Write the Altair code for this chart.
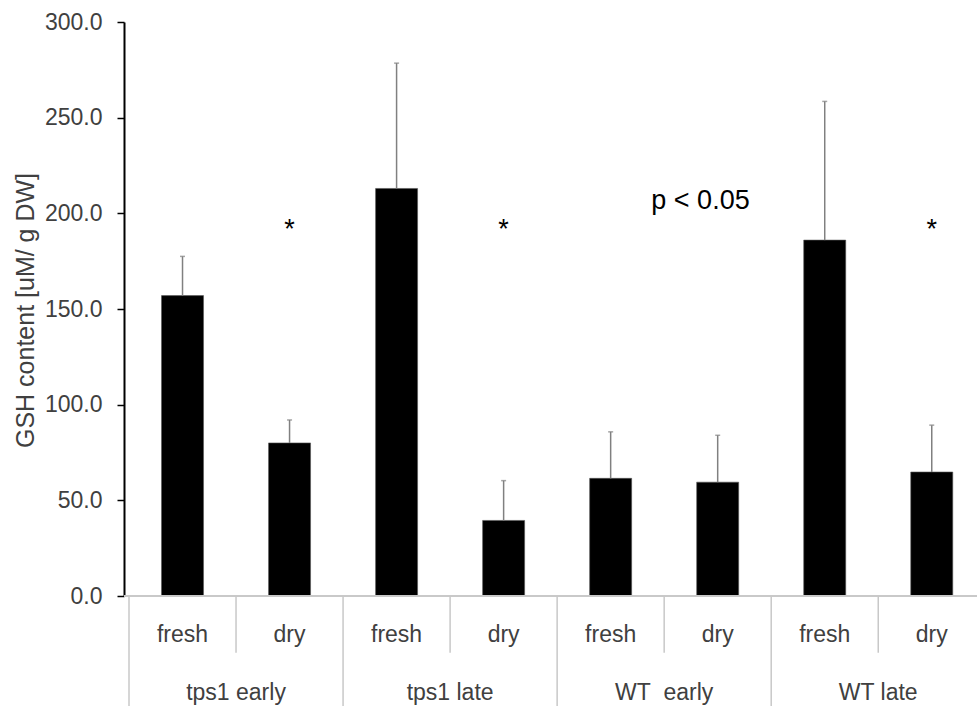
import altair as alt
import pandas as pd

# ---- data ----
conditions = ["fresh", "dry", "fresh", "dry", "fresh", "dry", "fresh", "dry"]
groups = ["tps1 early", "tps1 late", "WT\u00a0 early", "WT late"]
means = [157.0, 80.0, 213.0, 39.5, 61.5, 59.5, 186.0, 64.8]
upper = [177.5, 92.0, 278.5, 60.3, 85.8, 84.0, 258.5, 89.3]
star_on = [1, 3, 7]          # indices of bars marked with '*'
star_level = 187.0           # y value of the asterisks
p_text = "p < 0.05"
p_pos = (4.38, 202.5)        # (category position, y value) of the annotation
cond_label_y = -23.8         # y value for the 'fresh'/'dry' row
group_label_y = -54.2        # y value for the group row
sub_sep_bottom = -29.6
group_sep_bottom = -62.0

FONT = "Liberation Sans"
GREY_TXT = "#404040"

idx = list(range(len(conditions)))
bars = pd.DataFrame({"pos": idx, "cond": conditions, "mean": means, "upper": upper})
stars = pd.DataFrame({"pos": star_on, "y": [star_level] * len(star_on), "t": ["*"] * len(star_on)})
cond_lab = pd.DataFrame({"pos": idx, "t": conditions, "y": [cond_label_y] * len(idx)})
grp_lab = pd.DataFrame({"pos": [2 * g + 0.5 for g in range(len(groups))], "t": groups,
                        "y": [group_label_y] * len(groups)})
seps = pd.DataFrame({
    "pos": [i - 0.5 for i in idx],
    "y0": [0.0] * len(idx),
    "y1": [group_sep_bottom if i % 2 == 0 else sub_sep_bottom for i in idx],
})
ann = pd.DataFrame({"pos": [p_pos[0]], "y": [p_pos[1]], "t": [p_text]})

xscale = alt.Scale(domain=[-0.5, 7.376], nice=False, zero=False)
yscale = alt.Scale(domain=[0, 300], nice=False)

X = alt.X("pos:Q", scale=xscale, axis=None)

bar_layer = alt.Chart(bars).mark_bar(size=42, color="black", stroke="#555555", strokeWidth=0.6).encode(
    x=X,
    y=alt.Y("mean:Q", scale=yscale,
            axis=alt.Axis(title="GSH content [uM/ g DW]", values=[0, 50, 100, 150, 200, 250, 300],
                          format=".1f", grid=False)),
)
err_layer = alt.Chart(bars).mark_rule(color="#808080", strokeWidth=1.5).encode(
    x=X, y="mean:Q", y2="upper:Q"
)
cap_layer = alt.Chart(bars).mark_tick(color="#808080", orient="horizontal", size=5, thickness=1.5).encode(
    x=X, y="upper:Q"
)
base_layer = alt.Chart(bars).mark_rule(color="#c8c8c8", strokeWidth=1.5).encode(
    y=alt.datum(0)
)
sep_layer = alt.Chart(seps).mark_rule(color="#c8c8c8", strokeWidth=1.5, clip=False).encode(
    x=X, y="y0:Q", y2="y1:Q"
)
cond_layer = alt.Chart(cond_lab).mark_text(font=FONT, fontSize=23, color=GREY_TXT, baseline="alphabetic").encode(
    x=X, y="y:Q", text="t:N"
)
grp_layer = alt.Chart(grp_lab).mark_text(font=FONT, fontSize=23, color=GREY_TXT, baseline="alphabetic").encode(
    x=X, y="y:Q", text="t:N"
)
star_layer = alt.Chart(stars).mark_text(font=FONT, fontSize=27, color="black", baseline="alphabetic").encode(
    x=X, y="y:Q", text="t:N"
)
ann_layer = alt.Chart(ann).mark_text(font=FONT, fontSize=27, color="black", align="left",
                                     baseline="alphabetic").encode(
    x=X, y="y:Q", text="t:N"
)

chart = alt.layer(
    bar_layer, err_layer, cap_layer, base_layer, sep_layer,
    cond_layer, grp_layer, star_layer, ann_layer
).properties(
    width=853, height=574,
    autosize=alt.AutoSizeParams(type="none"),
    padding={"left": 124, "top": 22, "right": 0, "bottom": 110},
).configure_view(
    stroke=None
).configure_axisY(
    domainColor="black", domainWidth=2, tickColor="black", tickWidth=1.5, tickSize=7,
    labelFont=FONT, labelFontSize=23, labelColor=GREY_TXT, labelPadding=15,
    titleFont=FONT, titleFontSize=25, titleColor=GREY_TXT, titleFontWeight="normal",
    titleX=-91, titleY=288, titleBaseline="alphabetic", titleAlign="center", titleAngle=270,
)

chart.save("out.html", embed_options={"renderer": "svg", "actions": False})
